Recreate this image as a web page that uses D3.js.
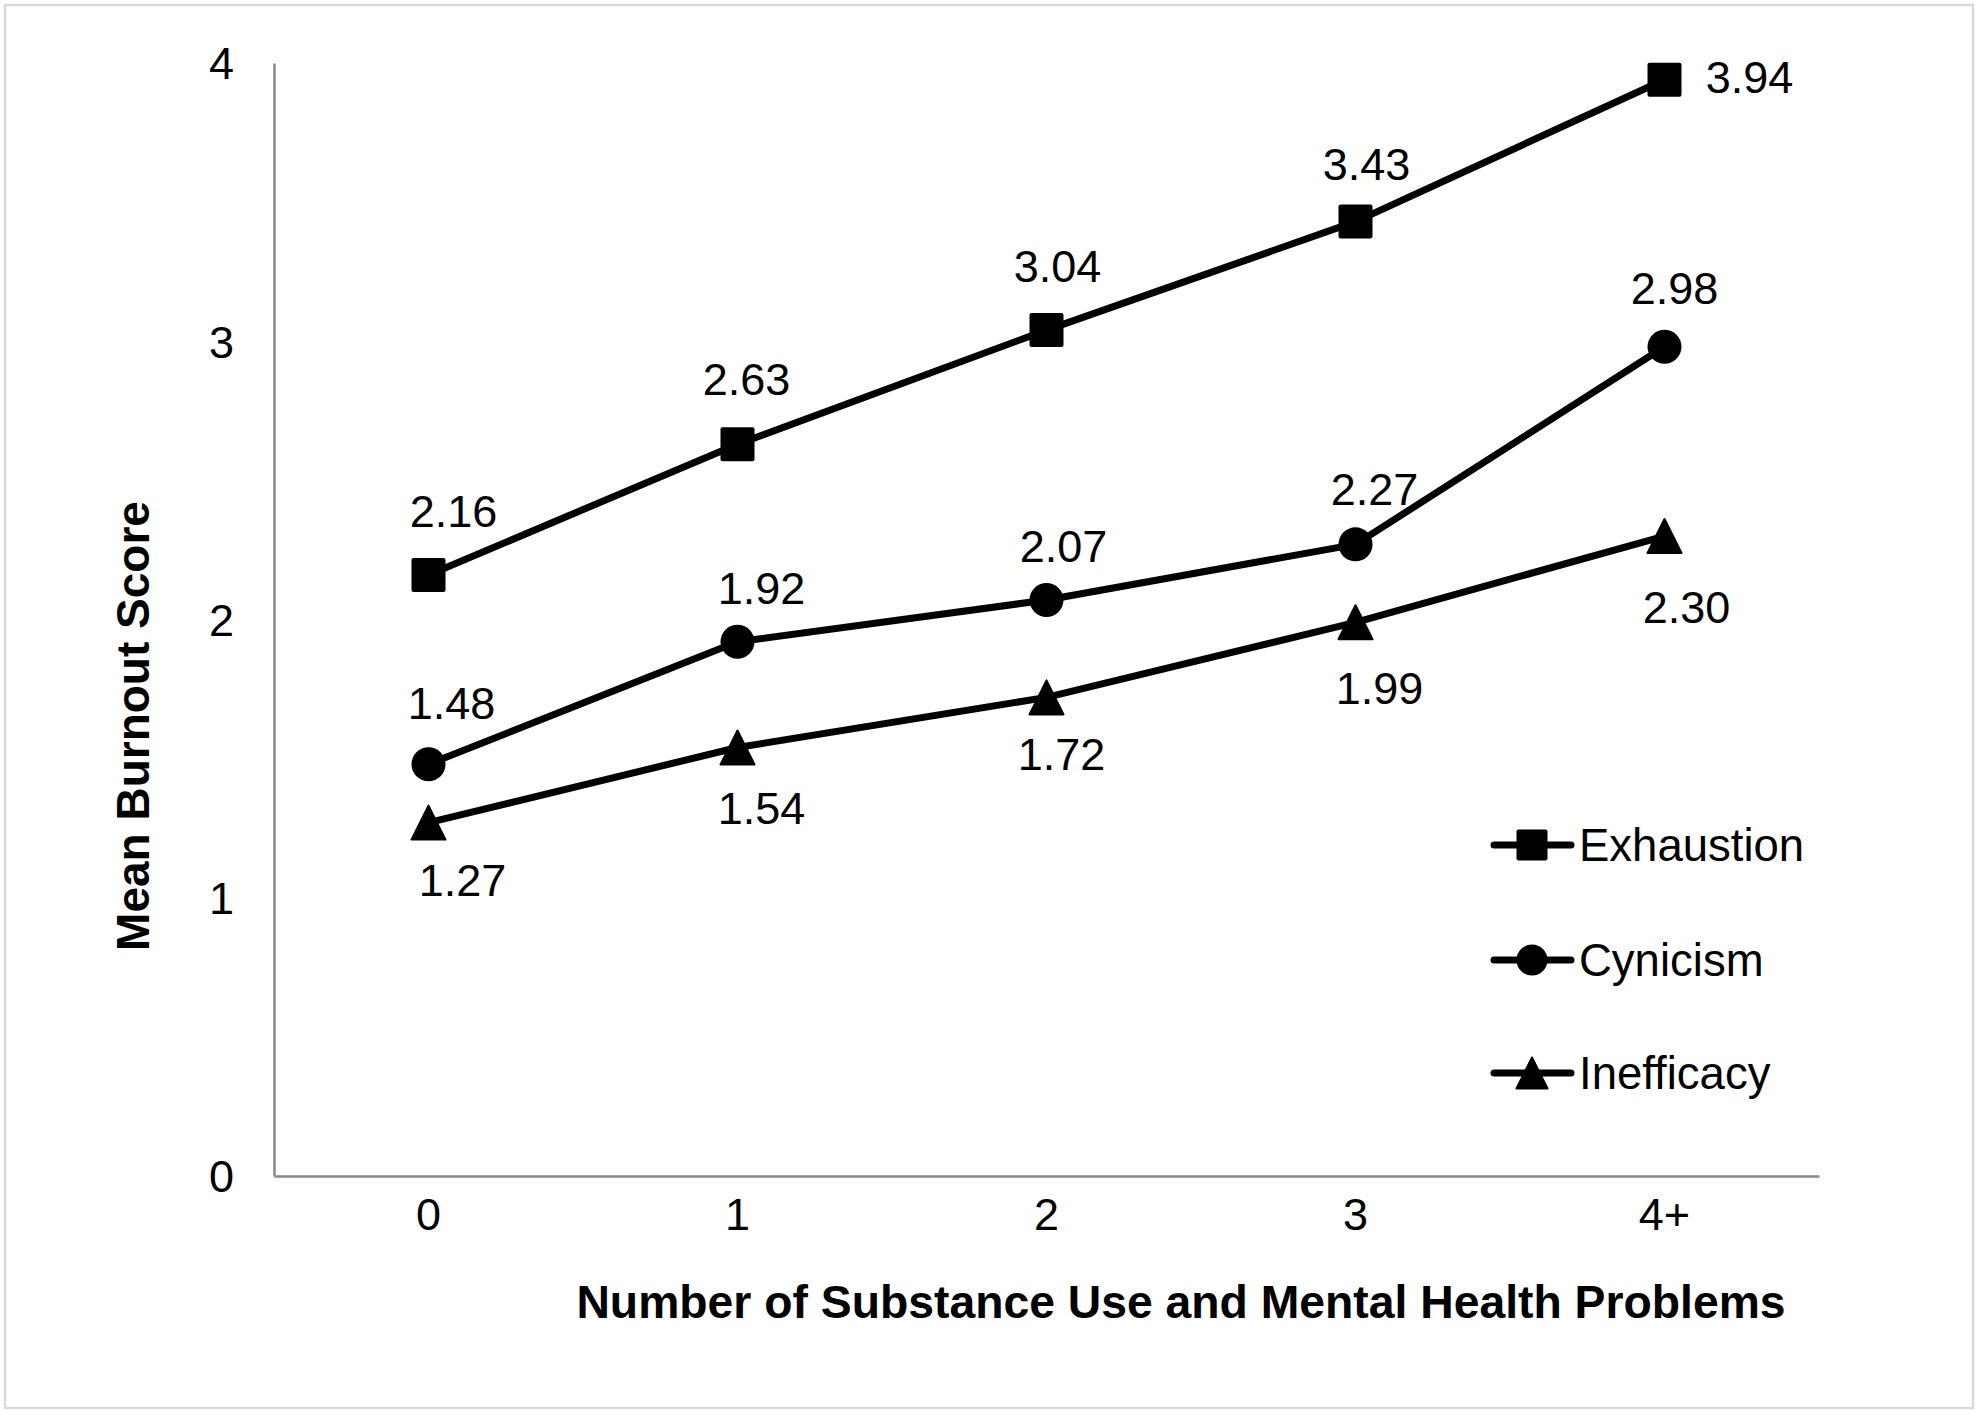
<!DOCTYPE html>
<html><head><meta charset="utf-8">
<script src="https://cdn.jsdelivr.net/npm/d3@7"></script>
<style>html,body{margin:0;padding:0;background:#fff;}svg{display:block;}</style>
</head><body>
<svg id="chart" width="1980" height="1415"></svg>
<script>
const categories = ["0", "1", "2", "3", "4+"];
const exhaustion = [2.16, 2.63, 3.04, 3.43, 3.94];
const cynicism = [1.48, 1.92, 2.07, 2.27, 2.98];
const inefficacy = [1.27, 1.54, 1.72, 1.99, 2.30];
const seriesNames = ["Exhaustion", "Cynicism", "Inefficacy"];
const yTicks = [0, 1, 2, 3, 4];
const xTitle = "Number of Substance Use and Mental Health Problems";
const yTitle = "Mean Burnout Score";

// label placement (layout only)
const labelOffsets = {
  Exhaustion: [[25,-64],[9,-65],[11,-64],[11,-57],[85,-2]],
  Cynicism:   [[23,-61],[24,-54],[17,-54],[19,-55],[10,-59]],
  Inefficacy: [[34,58],[24,61],[15,57],[24,66],[22,71]]
};

(function(){
const font = "'Liberation Sans', Arial, sans-serif";
const svg = d3.select("#chart");
const W = 1980, H = 1415;

svg.append("rect").attr("x",5).attr("y",5).attr("width",W-12).attr("height",H-12)
  .attr("fill","#fff").attr("stroke","#d9d9d9").attr("stroke-width",2.5);

const mLeft = 274, mRight = 1819, mTop = 63, mBottom = 1176;
const x = d3.scaleBand().domain(categories).range([mLeft, mRight]);
const y = d3.scaleLinear().domain([0, 4]).range([mBottom, mTop]);

const yAxis = d3.axisLeft(y).tickValues(yTicks).tickSize(0).tickPadding(40).tickFormat(d3.format("d"));
const gy = svg.append("g").attr("transform",`translate(${mLeft},0)`).call(yAxis);
gy.select(".domain").attr("stroke","#888").attr("stroke-width",2.5);
gy.selectAll("text").attr("font-family",font).attr("font-size",45).attr("fill","#000").attr("dy","0.35em");

const xAxis = d3.axisBottom(x).tickSize(0).tickPadding(22);
const gx = svg.append("g").attr("transform",`translate(0,${mBottom})`).call(xAxis);
gx.select(".domain").attr("stroke","#888").attr("stroke-width",2.5);
gx.selectAll("text").attr("font-family",font).attr("font-size",45).attr("fill","#000").attr("dy","0.71em");

svg.append("text").attr("x",1181).attr("y",1318).attr("text-anchor","middle")
  .attr("font-family",font).attr("font-weight","bold").attr("font-size",46.3).text(xTitle);
svg.append("text").attr("transform","translate(149,726) rotate(-90)").attr("text-anchor","middle")
  .attr("font-family",font).attr("font-weight","bold").attr("font-size",46).text(yTitle);

const data = [
  {name:"Exhaustion", values:exhaustion, shape:"square"},
  {name:"Cynicism", values:cynicism, shape:"circle"},
  {name:"Inefficacy", values:inefficacy, shape:"triangle"}
];
const cx = i => x(categories[i]) + x.bandwidth()/2;
const line = d3.line().x((d,i)=>cx(i)).y(d=>y(d));

function drawMarker(g, shape, px, py, s) {
  if (shape === "square") {
    g.append("rect").attr("x",px-s/2).attr("y",py-s/2).attr("width",s).attr("height",s).attr("rx",2).attr("fill","#000");
  } else if (shape === "circle") {
    g.append("circle").attr("cx",px).attr("cy",py).attr("r",s/2).attr("fill","#000");
  } else {
    const h = s;
    g.append("path").attr("d",`M${px},${py-h/2} L${px+s/2},${py+h/2} L${px-s/2},${py+h/2} Z`)
      .attr("fill","#000").attr("stroke","#000").attr("stroke-width",2).attr("stroke-linejoin","round");
  }
}

data.forEach(s => {
  svg.append("path").datum(s.values).attr("d",line).attr("fill","none")
    .attr("stroke","#000").attr("stroke-width",7).attr("stroke-linejoin","round").attr("stroke-linecap","round");
  const g = svg.append("g");
  s.values.forEach((v,i) => drawMarker(g, s.shape, cx(i), y(v), 34));
  s.values.forEach((v,i) => {
    const o = labelOffsets[s.name][i];
    svg.append("text").attr("x",cx(i)+o[0]).attr("y",y(v)+o[1]).attr("dy","0.35em")
      .attr("text-anchor","middle").attr("font-family",font).attr("font-size",45).attr("fill","#000")
      .text(v.toFixed(2));
  });
});

const legY = [845, 960, 1073];
data.forEach((s,i) => {
  const g = svg.append("g");
  g.append("line").attr("x1",1494).attr("x2",1571).attr("y1",legY[i]).attr("y2",legY[i])
    .attr("stroke","#000").attr("stroke-width",7).attr("stroke-linecap","round");
  drawMarker(g, s.shape, 1532, legY[i], 31);
  g.append("text").attr("x",1579).attr("y",legY[i]).attr("dy","0.35em")
    .attr("font-family",font).attr("font-size",45.5).attr("fill","#000").text(s.name);
});
})();
</script>
</body></html>
